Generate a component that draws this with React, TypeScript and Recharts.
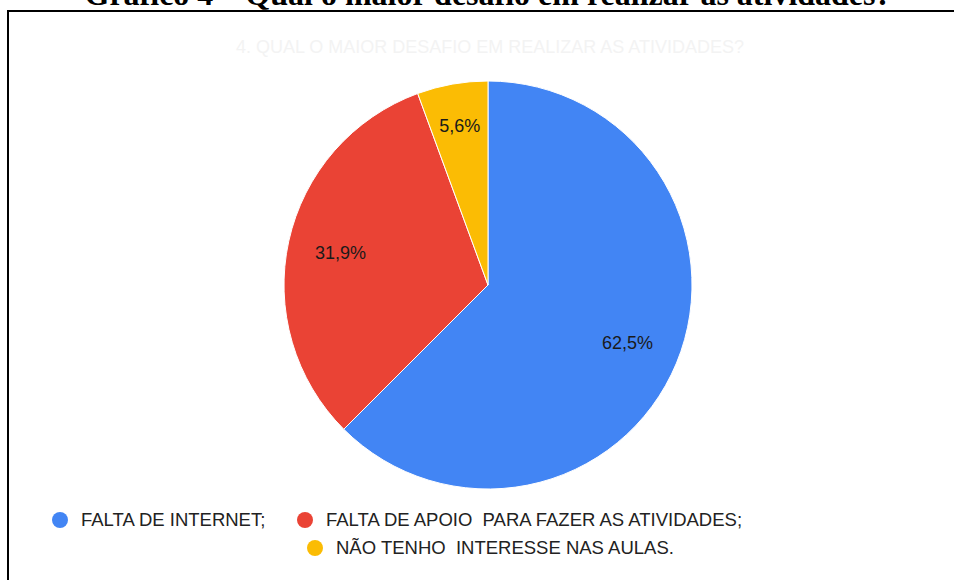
import { PieChart, Pie, Cell, Legend } from 'recharts';

const categories = [
  'FALTA DE INTERNET;',
  'FALTA DE APOIO  PARA FAZER AS ATIVIDADES;',
  'NÃO TENHO  INTERESSE NAS AULAS.',
];
const values = [62.5, 31.9, 5.6];
const COLORS = ['#4285F4', '#EA4335', '#FBBC04'];

const data = categories.map((name, i) => ({ name, value: values[i] }));

const RAD = Math.PI / 180;

const renderLabel = (props: any) => {
  const { cx, cy, midAngle, outerRadius, value, percent } = props;
  // thin slices get their label pushed a bit further out
  const r = outerRadius * (percent < 0.1 ? 0.79 : 0.74);
  const x = cx + r * Math.cos(-midAngle * RAD);
  const y = cy + r * Math.sin(-midAngle * RAD);
  return (
    <text
      x={x}
      y={y}
      fill="#1a1a1a"
      fontSize={18}
      fontFamily="Liberation Sans, Arial, sans-serif"
      textAnchor="middle"
      dominantBaseline="central"
    >
      {value.toFixed(1).replace('.', ',') + '%'}
    </text>
  );
};

// legend item spots (layout only)
const legendSpots = [
  { left: 52, top: 509 },
  { left: 297, top: 509 },
  { left: 307, top: 537 },
];

const renderLegend = () => (
  <div style={{ position: 'relative', width: 954, height: 80 }}>
    {categories.map((name, i) => (
      <div
        key={`leg-${i}`}
        style={{
          position: 'absolute',
          left: legendSpots[i].left,
          top: legendSpots[i].top - 500,
          display: 'flex',
          alignItems: 'center',
          whiteSpace: 'pre',
          fontFamily: 'Liberation Sans, Arial, sans-serif',
          fontSize: 18.5,
          color: '#222',
        }}
      >
        <span
          style={{
            display: 'inline-block',
            width: 16,
            height: 16,
            borderRadius: '50%',
            background: COLORS[i],
            marginRight: 13,
          }}
        />
        {name}
      </div>
    ))}
  </div>
);

export default function App() {
  return (
    <div
      style={{
        position: 'fixed',
        left: 0,
        top: 0,
        width: 954,
        height: 580,
        overflow: 'hidden',
        background: '#fff',
      }}
    >
      <div
        style={{
          position: 'absolute',
          left: 0,
          width: 976,
          top: -24,
          textAlign: 'center',
          whiteSpace: 'nowrap',
          fontFamily: 'Liberation Serif, Times New Roman, serif',
          fontWeight: 'bold',
          fontSize: 32,
          color: '#000',
        }}
      >
        Gráfico 4 – Qual o maior desafio em realizar as atividades?
      </div>
      <div
        style={{
          position: 'absolute',
          left: 7,
          top: 10,
          width: 1000,
          height: 700,
          borderTop: '2px solid #000',
          borderLeft: '2px solid #000',
        }}
      />
      <div
        style={{
          position: 'absolute',
          left: 0,
          width: 980,
          top: 37,
          textAlign: 'center',
          fontFamily: 'Liberation Sans, Arial, sans-serif',
          fontSize: 18,
          color: '#f3f3f3',
        }}
      >
        4. QUAL O MAIOR DESAFIO EM REALIZAR AS ATIVIDADES?
      </div>
      <div style={{ position: 'absolute', left: 0, top: 0 }}>
        <PieChart width={954} height={580} margin={{ top: 0, right: 0, bottom: 0, left: 0 }}>
          <Pie
            data={data}
            dataKey="value"
            nameKey="name"
            cx={488}
            cy={285}
            outerRadius={204}
            startAngle={90}
            endAngle={-270}
            stroke="#fff"
            strokeWidth={1}
            label={renderLabel}
            labelLine={false}
            isAnimationActive={false}
          >
            {data.map((entry, idx) => (
              <Cell key={`cell-${idx}`} fill={COLORS[idx % COLORS.length]} />
            ))}
          </Pie>
          <Legend
            content={renderLegend}
            wrapperStyle={{ position: 'absolute', left: 0, top: 500, width: 954 }}
          />
        </PieChart>
      </div>
    </div>
  );
}
